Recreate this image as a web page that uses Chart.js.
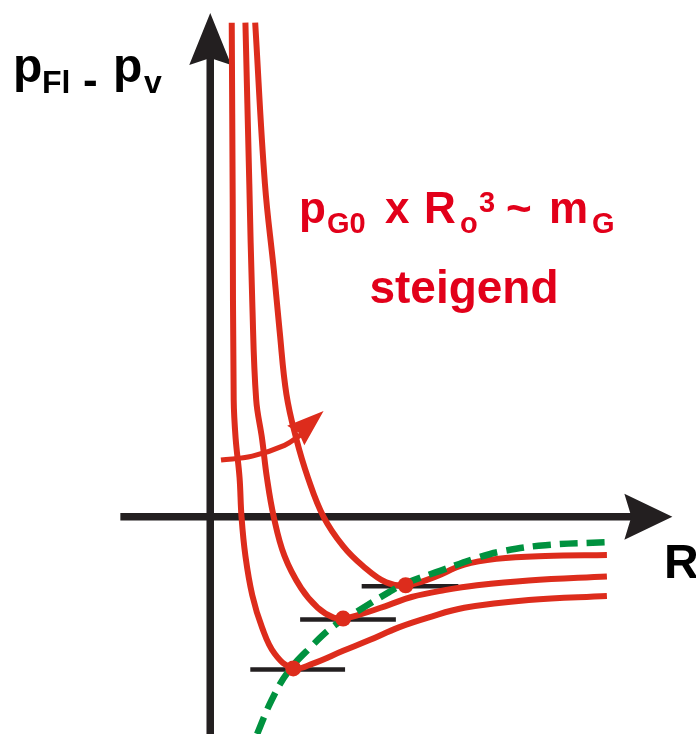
<!DOCTYPE html>
<html>
<head>
<meta charset="utf-8">
<script src="https://cdn.jsdelivr.net/npm/chart.js@4/dist/chart.umd.min.js"></script>
<style>
html, body { margin: 0; padding: 0; background: #fff; overflow: hidden; }
canvas { display: block; }
</style>
</head>
<body>
<canvas id="chart" width="696" height="742"></canvas>
<script>
// schematic units: 1 unit = 100 px, origin where the two axes cross

// red curves, from small to large gas content
const curve1X = [0.22, 0.23, 0.24, 0.26, 0.30, 0.32, 0.36, 0.43, 0.53, 0.66, 0.85, 1.05, 1.36, 1.63, 1.93, 2.23, 2.60, 3.26, 4.06];
const curve1Y = [5.05, 3.20, 1.20, 0.80, 0.40, 0.00, -0.40, -0.80, -1.13, -1.40, -1.55, -1.50, -1.37, -1.26, -1.13, -1.03, -0.93, -0.85, -0.81];

const curve2X = [0.36, 0.40, 0.43, 0.47, 0.53, 0.58, 0.65, 0.76, 0.93, 1.10, 1.26, 1.36, 1.53, 1.83, 2.06, 2.40, 2.73, 3.26, 4.06];
const curve2Y = [5.05, 3.40, 2.20, 1.20, 0.80, 0.40, 0.00, -0.40, -0.73, -0.93, -1.03, -1.04, -1.00, -0.90, -0.82, -0.75, -0.70, -0.65, -0.61];

const curve3X = [0.46, 0.56, 0.65, 0.71, 0.78, 0.88, 1.00, 1.16, 1.36, 1.56, 1.80, 2.00, 2.26, 2.60, 2.93, 3.43, 4.06];
const curve3Y = [5.05, 3.40, 2.53, 1.90, 1.25, 0.80, 0.40, 0.00, -0.30, -0.50, -0.67, -0.70, -0.63, -0.49, -0.43, -0.40, -0.39];

// green dashed line through the minima
const minLineX = [0.48, 0.63, 0.80, 1.03, 1.26, 1.50, 1.83, 2.00, 2.36, 2.73, 3.00, 3.43, 4.06];
const minLineY = [-2.22, -1.87, -1.58, -1.33, -1.12, -0.97, -0.77, -0.68, -0.55, -0.42, -0.35, -0.29, -0.26];

// minima (dots) and the black bars under them
const minX = [0.85, 1.36, 2.00];
const minY = [-1.55, -1.04, -0.70];
const barFrom = [0.41, 0.92, 1.55];
const barTo = [1.38, 1.90, 2.54];
const barY = [-1.56, -1.05, -0.71];

// curved arrow "steigend"
const arrowX = [0.11, 0.43, 0.76, 0.93];
const arrowY = [0.58, 0.62, 0.73, 0.84];
const arrowTip = [1.16, 1.08];

// axes: start and arrow tip
const xAxisFrom = -0.92, xAxisTip = 4.73;
const yAxisFrom = -2.22, yAxisTip = 5.15;

const RED = '#dd2c1c';
const TEXTRED = '#e2001a';
const GREEN = '#00923f';
const BLACK = '#231f20';

function pts(xs, ys) {
    return xs.map((x, i) => ({x: x, y: ys[i]}));
}

function redCurve(xs, ys) {
    return {
        data: pts(xs, ys),
        showLine: true,
        borderColor: RED,
        borderWidth: 6,
        pointRadius: 0,
        tension: 0.4,
        order: 3
    };
}

const datasets = [];

// bars below everything
for (let i = 0; i < minX.length; i++) {
    datasets.push({
        data: [{x: barFrom[i], y: barY[i]}, {x: barTo[i], y: barY[i]}],
        showLine: true,
        borderColor: BLACK,
        borderWidth: 4.5,
        pointRadius: 0,
        order: 5
    });
}
datasets.push(redCurve(curve1X, curve1Y));
datasets.push(redCurve(curve2X, curve2Y));
datasets.push(redCurve(curve3X, curve3Y));
datasets.push({
    data: pts(arrowX, arrowY),
    showLine: true,
    borderColor: RED,
    borderWidth: 5,
    pointRadius: 0,
    tension: 0.4,
    order: 3
});
datasets.push({
    data: pts(minLineX, minLineY),
    showLine: true,
    borderColor: GREEN,
    borderWidth: 6.5,
    borderDash: [18, 9],
    pointRadius: 0,
    tension: 0.4,
    order: 2
});
datasets.push({
    data: pts(minX, minY),
    showLine: false,
    pointRadius: 8,
    pointBackgroundColor: RED,
    pointBorderWidth: 0,
    order: 1
});

function arrowHead(ctx, tip, base, len, half, notch, color) {
    const dx = tip.x - base.x, dy = tip.y - base.y;
    const d = Math.hypot(dx, dy);
    const ux = dx / d, uy = dy / d;
    const bx = tip.x - ux * len, by = tip.y - uy * len;
    ctx.fillStyle = color;
    ctx.beginPath();
    ctx.moveTo(tip.x, tip.y);
    ctx.lineTo(bx - uy * half, by + ux * half);
    ctx.lineTo(bx + ux * notch, by + uy * notch);
    ctx.lineTo(bx + uy * half, by - ux * half);
    ctx.closePath();
    ctx.fill();
}

function textRuns(ctx, parts, color) {
    ctx.fillStyle = color;
    ctx.textBaseline = 'alphabetic';
    ctx.textAlign = 'left';
    parts.forEach(p => {
        ctx.font = 'bold ' + p[1] + 'px "Liberation Sans", Arial, sans-serif';
        ctx.fillText(p[0], p[2], p[3]);
    });
}

const axesPlugin = {
    id: 'axes',
    beforeDatasetsDraw(chart) {
        const ctx = chart.ctx, sx = chart.scales.x, sy = chart.scales.y;
        const ox = sx.getPixelForValue(0), oy = sy.getPixelForValue(0);
        ctx.save();
        ctx.strokeStyle = BLACK;
        ctx.lineWidth = 7.5;
        ctx.beginPath();
        ctx.moveTo(sx.getPixelForValue(xAxisFrom), oy);
        ctx.lineTo(sx.getPixelForValue(xAxisTip) - 40, oy);
        ctx.moveTo(ox, sy.getPixelForValue(yAxisFrom));
        ctx.lineTo(ox, sy.getPixelForValue(yAxisTip) + 40);
        ctx.stroke();
        arrowHead(ctx, {x: sx.getPixelForValue(xAxisTip), y: oy}, {x: ox, y: oy}, 48, 23, 7, BLACK);
        arrowHead(ctx, {x: ox, y: sy.getPixelForValue(yAxisTip)}, {x: ox, y: oy}, 52, 21, 7, BLACK);
        ctx.restore();
    },
    afterDraw(chart) {
        const ctx = chart.ctx, sx = chart.scales.x, sy = chart.scales.y;
        ctx.save();
        const n = arrowX.length - 1;
        arrowHead(ctx,
            {x: sx.getPixelForValue(arrowTip[0]), y: sy.getPixelForValue(arrowTip[1])},
            {x: sx.getPixelForValue(arrowX[n - 1]), y: sy.getPixelForValue(arrowY[n - 1])},
            37, 13, 4, RED);

        textRuns(ctx, [
            ['p', 48, 13, 82], ['Fl', 32, 42, 93], ['-', 44, 83, 95],
            ['p', 48, 113, 82], ['v', 32, 144, 93]
        ], '#000');
        textRuns(ctx, [['R', 48, 664, 578]], '#000');

        textRuns(ctx, [
            ['p', 44, 299, 223], ['G0', 29, 327, 233], ['x', 44, 385, 223],
            ['R', 44, 424, 223], ['o', 29, 460, 233], ['3', 29, 479, 212],
            ['~', 44, 506, 223], ['m', 44, 549, 223], ['G', 29, 592, 233]
        ], TEXTRED);
        ctx.font = 'bold 46px "Liberation Sans", Arial, sans-serif';
        ctx.textAlign = 'center';
        ctx.fillText('steigend', 464, 303);
        ctx.restore();
    }
};

new Chart(document.getElementById('chart'), {
    type: 'scatter',
    data: {datasets: datasets},
    options: {
        responsive: false,
        animation: false,
        devicePixelRatio: 1,
        layout: {padding: 0},
        plugins: {legend: {display: false}, tooltip: {enabled: false}},
        scales: {
            x: {type: 'linear', display: false, min: -2.07, max: 4.89},
            y: {type: 'linear', display: false, min: -2.22, max: 5.20}
        }
    },
    plugins: [axesPlugin]
});
</script>
</body>
</html>
